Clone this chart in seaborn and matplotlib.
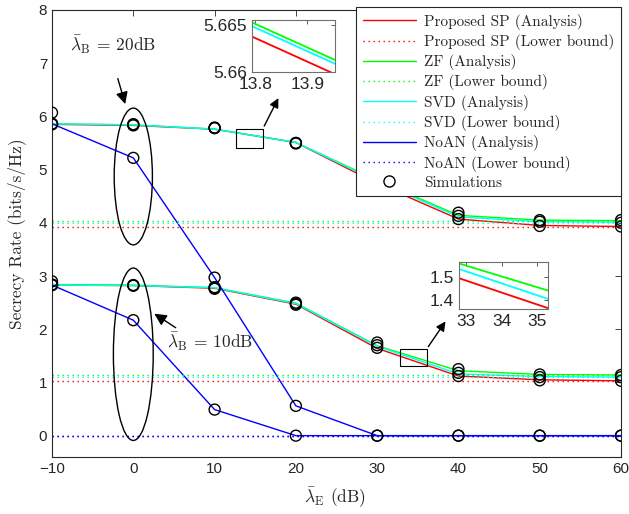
import numpy as np
import pandas as pd
import matplotlib
matplotlib.use("Agg")
import matplotlib.pyplot as plt
import seaborn as sns
from matplotlib.patches import Ellipse, Rectangle
from matplotlib.lines import Line2D

# x axis: average SNR at Eve (dB)
x_db = [-10, 0, 10, 20, 30, 40, 50, 60]

# lambda_B = 20 dB, analysis
sp_20 = [5.85, 5.83, 5.7586, 5.5086, 4.74, 4.07, 3.95, 3.93]
zf_20 = [5.86, 5.84, 5.7601, 5.5101, 4.80, 4.14, 4.05, 4.04]
svd_20 = [5.86, 5.84, 5.7597, 5.5097, 4.78, 4.11, 4.02, 4.01]
noan_20 = [5.86, 5.22, 2.97, 0.56, 0.0, 0.0, 0.0, 0.0]

# lambda_B = 10 dB, analysis
sp_10 = [2.83, 2.82, 2.77, 2.47, 1.64, 1.12, 1.05, 1.03]
zf_10 = [2.84, 2.83, 2.78, 2.49, 1.69, 1.22, 1.15, 1.14]
svd_10 = [2.83, 2.82, 2.78, 2.48, 1.68, 1.16, 1.11, 1.10]
noan_10 = [2.83, 2.17, 0.49, 0.0, 0.0, 0.0, 0.0, 0.0]

# lower bounds (constant in lambda_E)
lb_20 = {"sp": 3.93, "zf": 4.04, "svd": 4.00, "noan": 0.0}
lb_10 = {"sp": 1.03, "zf": 1.14, "svd": 1.10, "noan": 0.0}

# simulations
sim_sp_20 = [5.85, 5.83, 5.78, 5.49, 4.74, 4.07, 3.94, 3.93]
sim_zf_20 = [5.86, 5.85, 5.79, 5.50, 4.80, 4.19, 4.05, 4.05]
sim_svd_20 = [5.86, 5.85, 5.78, 5.50, 4.78, 4.13, 4.02, 4.00]
sim_noan_20 = [6.07, 5.22, 2.97, 0.56, 0.0, 0.0, 0.0, 0.0]
sim_sp_10 = [2.83, 2.82, 2.76, 2.46, 1.65, 1.12, 1.04, 1.03]
sim_zf_10 = [2.84, 2.83, 2.79, 2.50, 1.75, 1.25, 1.15, 1.14]
sim_svd_10 = [2.83, 2.82, 2.77, 2.48, 1.70, 1.18, 1.10, 1.10]
sim_noan_10 = [2.90, 2.17, 0.49, 0.0, 0.0, 0.0, 0.0, 0.0]

schemes = ["sp", "zf", "svd", "noan"]
names = {"sp": "Proposed SP", "zf": "ZF", "svd": "SVD", "noan": "NoAN"}
colors = {"sp": "#ff0000", "zf": "#00ff00", "svd": "#00ffff", "noan": "#0000ff"}
analysis = {"sp": (sp_20, sp_10), "zf": (zf_20, zf_10),
            "svd": (svd_20, svd_10), "noan": (noan_20, noan_10)}
sims = [sim_sp_20, sim_zf_20, sim_svd_20, sim_noan_20,
        sim_sp_10, sim_zf_10, sim_svd_10, sim_noan_10]

sns.set_style("white")
plt.rcParams["mathtext.fontset"] = "cm"
TICKFONT = "Liberation Sans"
SERIF = "cmr10"
dotted = (0, (1, 2.6))
spine_c = "#262626"

fig = plt.figure(figsize=(6.29, 5.14), dpi=100)
ax = fig.add_axes([0.0827, 0.111, 0.9046, 0.8697])


def draw_lines(axis, lw=1.0, bounds=True):
    for s in schemes:
        for vals in analysis[s]:
            sns.lineplot(x=x_db, y=vals, color=colors[s], lw=lw, ax=axis)
    if bounds:
        for s in schemes:
            for lb in (lb_20, lb_10):
                sns.lineplot(x=[x_db[0], x_db[-1]], y=[lb[s], lb[s]],
                             color=colors[s], lw=lw, linestyle=dotted, ax=axis)


draw_lines(ax)

sim_df = pd.DataFrame({"x": np.tile(x_db, len(sims)), "y": np.concatenate(sims)})
sns.scatterplot(data=sim_df, x="x", y="y", marker="o", s=62, facecolor="none",
                edgecolor="black", linewidth=1.0, ax=ax, zorder=5)

ax.set_xlim(-10, 60)
ax.set_ylim(-0.4, 8)
ax.set_xticks(range(-10, 61, 10))
ax.set_yticks(range(0, 9))
ax.tick_params(direction="in", top=True, right=True, length=4, width=0.6,
               colors=spine_c, labelsize=11)
for lab in ax.get_xticklabels() + ax.get_yticklabels():
    lab.set_fontfamily(TICKFONT)
    lab.set_color("#262626")
for sp in ax.spines.values():
    sp.set_color(spine_c)
    sp.set_linewidth(0.8)

ax.set_xlabel(r"$\bar{\lambda}_{\rm E}$ (dB)", fontfamily=SERIF, fontsize=12.5,
              va="center")
ax.set_ylabel("Secrecy Rate (bits/s/Hz)", fontfamily=SERIF, fontsize=12.5,
              va="center")
ax.xaxis.set_label_coords(0.497, -0.092)
ax.yaxis.set_label_coords(-0.062, 0.5)

# ellipses and annotations
ax.add_patch(Ellipse((0, 4.87), 4.7, 2.57, fill=False, ec="black", lw=1.0, zorder=6))
ax.add_patch(Ellipse((0, 1.53), 4.9, 3.24, fill=False, ec="black", lw=1.0, zorder=6))
arrow = dict(arrowstyle="-|>", color="black", lw=1.0, mutation_scale=18)
ax.annotate("", xy=(-0.9, 6.18), xytext=(-2.0, 6.76), arrowprops=arrow)
ax.annotate("", xy=(2.3, 2.32), xytext=(5.5, 2.0), arrowprops=arrow)
ax.text(-7.8, 7.34, r"$\bar{\lambda}_{\rm B}$ = 20dB", fontfamily=SERIF,
        fontsize=12.5, va="center", ha="left")
ax.text(4.15, 1.76, r"$\bar{\lambda}_{\rm B}$ = 10dB", fontfamily=SERIF,
        fontsize=12.5, va="center", ha="left")

ax.add_patch(Rectangle((12.6, 5.41), 3.35, 0.36, fill=False, ec="black", lw=0.8, zorder=6))
ax.add_patch(Rectangle((32.8, 1.31), 3.3, 0.32, fill=False, ec="black", lw=0.8, zorder=6))
arrow2 = dict(arrowstyle="-|>", color="black", lw=1.0, mutation_scale=14)
ax.annotate("", xy=(18.0, 6.39), xytext=(15.95, 5.77), arrowprops=arrow2)
ax.annotate("", xy=(38.6, 2.19), xytext=(36.1, 1.63), arrowprops=arrow2)

# legend
handles = []
labels = []
for s in schemes:
    handles.append(Line2D([], [], color=colors[s], lw=1.0))
    labels.append(names[s] + " (Analysis)")
    handles.append(Line2D([], [], color=colors[s], lw=1.0, linestyle=dotted))
    labels.append(names[s] + " (Lower bound)")
handles.append(Line2D([], [], color="black", marker="o", mfc="none", ms=8, lw=0))
labels.append("Simulations")
leg = ax.legend(handles, labels, loc="upper right", bbox_to_anchor=(1.0, 1.007),
                borderaxespad=0, prop={"family": SERIF, "size": 11},
                handlelength=3.5, labelspacing=0.28, fancybox=False,
                framealpha=1, edgecolor=spine_c, borderpad=0.45, handletextpad=0.5)
leg.get_frame().set_linewidth(0.8)
leg.set_zorder(10)

# zoomed insets
ins1 = ax.inset_axes([0.3515, 0.861, 0.1459, 0.1163])
ins2 = ax.inset_axes([0.7153, 0.3311, 0.1564, 0.1051])
for ins, xl, yl, xt, yt in [
    (ins1, (13.794, 13.953), (5.66, 5.6655), [13.8, 13.9], [5.66, 5.665]),
    (ins2, (32.8, 35.3), (1.361, 1.565), [33, 34, 35], [1.4, 1.5]),
]:
    draw_lines(ins, lw=1.3, bounds=False)
    ins.set_xlim(*xl)
    ins.set_ylim(*yl)
    ins.set_xticks(xt)
    ins.set_yticks(yt)
    ins.set_xticklabels([f"{v:g}" for v in xt])
    ins.set_yticklabels([f"{v:g}" for v in yt])
    ins.set_facecolor("white")
    ins.tick_params(direction="in", top=True, right=True, length=3, width=0.6,
                    colors="#404040", labelsize=12.5)
    for lab in ins.get_xticklabels() + ins.get_yticklabels():
        lab.set_fontfamily(TICKFONT)
        lab.set_color("#262626")
    for sp in ins.spines.values():
        sp.set_color("#707070")
        sp.set_linewidth(0.8)
    ins.set_xlabel("")
    ins.set_ylabel("")
    ins.set_zorder(9)

fig.savefig("out.png", dpi=100)
